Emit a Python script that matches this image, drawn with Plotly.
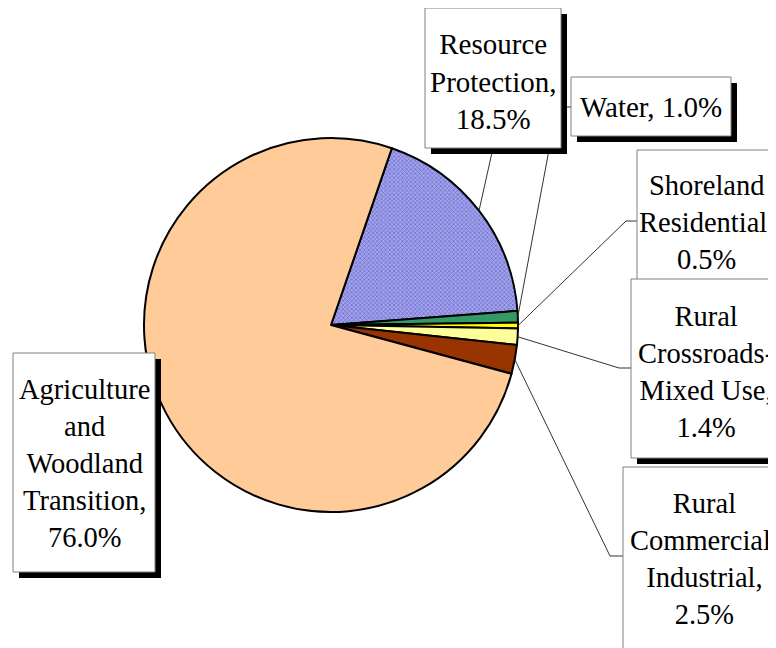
import plotly.graph_objects as go
import math

# ---- data ----
categories = ["Resource Protection", "Water", "Shoreland Residential",
              "Rural Crossroads-Mixed Use", "Rural Commercial/Industrial",
              "Agriculture and Woodland Transition"]
values = [18.5, 1.0, 0.5, 1.4, 2.5, 76.0]
label_texts = ["Resource<br>Protection,<br>18.5%", "Water, 1.0%",
               "Shoreland<br>Residential,<br>0.5%",
               "Rural<br>Crossroads-<br>Mixed Use,<br>1.4%",
               "Rural<br>Commercial/<br>Industrial,<br>2.5%",
               "Agriculture<br>and<br>Woodland<br>Transition,<br>76.0%"]

colors = ["#9C9CE4", "#339966", "#FFFF00", "#FFFF99", "#993300", "#FFCC99"]

OFF = 8  # page body margin offset
W, H = 776 - OFF, 648 - OFF
CX, CY, R = 331 - OFF, 325 - OFF, 187
ROT = 19

fig = go.Figure()
fig.add_trace(go.Scatter(x=[], y=[], showlegend=False, hoverinfo="skip"))
fig.add_trace(go.Pie(
    labels=categories, values=values, sort=False, direction="clockwise",
    rotation=ROT, textinfo="none", showlegend=False,
    marker=dict(colors=colors, line=dict(color="black", width=2),
                pattern=dict(shape=["x", "", "", "", "", ""],
                             fgcolor=["#3030C0"] * 6, bgcolor=["#A4A4E8"] * 6,
                             size=3, solidity=0.4, fillmode="overlay")),
    domain=dict(x=[(CX - R) / W, (CX + R) / W], y=[(H - CY - R) / H, (H - CY + R) / H]),
))

# label box layout (screen pixels): x0, y0, x1, y1, text center x, text center y, elbow
boxes = [
    (425, 8, 561, 148, 493, 81, [(493, 148)]),
    (571, 77, 731, 136, 651, 107, [(571, 107), (557, 107)]),
    (637, 150, 800, 290, 706, 222, [(637, 221), (626, 221)]),
    (631, 279, 800, 458, 706, 372, [(631, 368), (619, 368)]),
    (623, 467, 800, 660, 704, 559, [(623, 556), (610, 556)]),
    (13, 353, 155, 572, 84, 463, None),
]
sizes = [29, 29, 28.5, 28.5, 28.5, 28.5]

def sh(p):
    return (p[0] - OFF, p[1] - OFF)

total = sum(values)
cum = 0.0
shapes = []
for i, v in enumerate(values):
    mid = ROT + (cum + v / 2) / total * 360
    cum += v
    pts = boxes[i][6]
    if pts:
        ex = CX + R * math.sin(math.radians(mid))
        ey = CY - R * math.cos(math.radians(mid))
        path_pts = [sh(p) for p in pts] + [(ex, ey)]
        path = "M " + " L ".join(f"{px:.1f},{py:.1f}" for px, py in path_pts)
        shapes.append(dict(type="path", path=path, xref="x", yref="y",
                           line=dict(color="#333333", width=1), layer="above"))

for i, (x0, y0, x1, y1, tx, ty, pts) in enumerate(boxes):
    x0, y0, x1, y1, tx, ty = x0 - OFF, y0 - OFF, x1 - OFF, y1 - OFF, tx - OFF, ty - OFF
    shapes.append(dict(type="rect", x0=x0 + 6, y0=y0 + 6, x1=x1 + 6, y1=y1 + 6,
                       xref="x", yref="y", fillcolor="black",
                       line=dict(width=0), layer="above"))
    shapes.append(dict(type="rect", x0=x0, y0=y0, x1=x1, y1=y1,
                       xref="x", yref="y", fillcolor="white",
                       line=dict(color="#808080", width=1), layer="above"))
    fig.add_annotation(x=tx, y=ty, xref="x", yref="y", text=label_texts[i],
                       showarrow=False, align="center",
                       font=dict(family="Liberation Serif, Times New Roman, serif",
                                 size=sizes[i], color="black"))

fig.update_layout(
    width=W, height=H, margin=dict(l=0, r=0, t=0, b=0),
    paper_bgcolor="white", plot_bgcolor="rgba(0,0,0,0)",
    xaxis=dict(range=[0, W], visible=False, domain=[0, 1], fixedrange=True),
    yaxis=dict(range=[H, 0], visible=False, domain=[0, 1], fixedrange=True),
    shapes=shapes, showlegend=False,
)
fig.write_html("out.html")
